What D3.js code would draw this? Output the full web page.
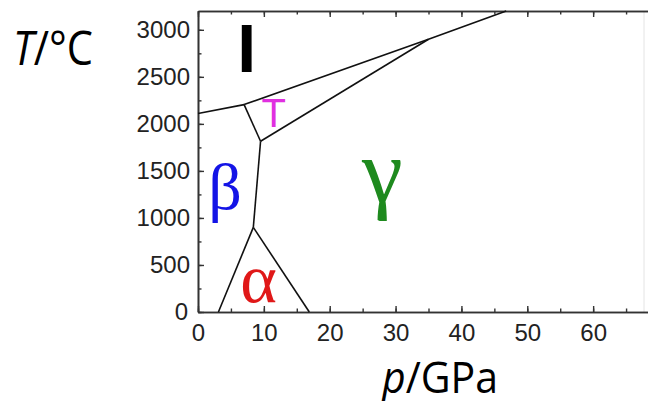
<!DOCTYPE html>
<html>
<head>
<meta charset="utf-8">
<script src="https://cdn.jsdelivr.net/npm/d3@7"></script>
<style>
  body { margin: 0; background: #fff; }
  svg { display: block; }
  .tick text { font-family: "Liberation Sans", Arial, sans-serif; font-size: 24px; fill: #222; }
</style>
</head>
<body>
<div id="chart"></div>
<script>
// phase boundaries, [p (GPa), T (°C)]
const lineLiquidBeta = [[0, 2110], [7, 2205]];
const lineMeltTop = [[7, 2205], [35, 2900], [46.8, 3200]];
const lineBetaT = [[7, 2205], [9.5, 1815]];
const lineTGamma = [[9.5, 1815], [35, 2900]];
const lineBetaGamma = [[9.5, 1815], [8.4, 900]];
const lineAlphaBeta = [[8.4, 900], [3.1, 0]];
const lineAlphaGamma = [[8.4, 900], [16.9, 0]];
const boundaries = [lineLiquidBeta, lineMeltTop, lineBetaT, lineTGamma, lineBetaGamma, lineAlphaBeta, lineAlphaGamma];

// phase labels
const phaseNames = ["I", "T", "β", "α", "γ"];
const phaseP = [7.4, 11.5, 4.1, 9.2, 28];
const phaseT = [2550, 1965, 1100, 104, 1170];

const xTicks = [0, 10, 20, 30, 40, 50, 60];
const yTicks = [0, 500, 1000, 1500, 2000, 2500, 3000];

let vis = {};
vis.width = 648;
vis.height = 401;

vis.svg = d3.select("#chart").append("svg")
    .attr("width", vis.width)
    .attr("height", vis.height);

// plot runs past the right edge of the picture (cropped)
vis.x = d3.scaleLinear().domain([0, 70]).range([198, 659]);
vis.y = d3.scaleLinear().domain([0, 3200]).range([312, 11]);

// axes, ticks pointing inward
let minorX = d3.range(0, 70, 5);
let minorY = d3.range(0, 3201, 250);

function styleAxis(g) {
    g.select(".domain").attr("stroke", "#333").attr("stroke-width", 1.6);
    g.selectAll(".tick line").attr("stroke", "#333").attr("stroke-width", 1.4);
}

// faint right edge of the cropped frame
vis.svg.append("line")
    .attr("x1", 644).attr("x2", 644)
    .attr("y1", vis.y(3200)).attr("y2", vis.y(0))
    .attr("stroke", "#e4e4e4")
    .attr("stroke-width", 1);

vis.svg.append("g")
    .attr("transform", "translate(0," + vis.y(0) + ")")
    .call(d3.axisBottom(vis.x).tickValues(minorX).tickSize(-3.5).tickSizeOuter(0).tickFormat(""))
    .call(styleAxis);
vis.svg.append("g")
    .attr("transform", "translate(0," + vis.y(0) + ")")
    .call(d3.axisBottom(vis.x).tickValues(xTicks).tickSize(-6).tickPadding(12).tickSizeOuter(0).tickFormat(d3.format("d")))
    .call(styleAxis)
    .selectAll("text").attr("dy", "0.71em");

vis.svg.append("g")
    .attr("transform", "translate(0," + vis.y(3200) + ")")
    .call(d3.axisTop(vis.x).tickValues(minorX).tickSize(-3.5).tickSizeOuter(0).tickFormat(""))
    .call(styleAxis);
vis.svg.append("g")
    .attr("transform", "translate(0," + vis.y(3200) + ")")
    .call(d3.axisTop(vis.x).tickValues(xTicks).tickSize(-6).tickFormat("").tickSizeOuter(0))
    .call(styleAxis);

vis.svg.append("g")
    .attr("transform", "translate(" + vis.x(0) + ",0)")
    .call(d3.axisLeft(vis.y).tickValues(minorY).tickSize(-3.5).tickSizeOuter(0).tickFormat(""))
    .call(styleAxis);
vis.svg.append("g")
    .attr("class", "y-axis")
    .attr("transform", "translate(" + vis.x(0) + ",0)")
    .call(d3.axisLeft(vis.y).tickValues(yTicks).tickSize(-6).tickPadding(8).tickSizeOuter(0).tickFormat(d3.format("d")))
    .call(styleAxis);

// the 0 on the T axis sits a bit left
vis.svg.select(".y-axis").selectAll(".tick text")
    .filter(d => d === 0)
    .attr("x", -10);

// phase boundaries
let line = d3.line().x(d => vis.x(d[0])).y(d => vis.y(d[1]));
vis.svg.append("g")
    .selectAll("path")
    .data(boundaries)
    .join("path")
    .attr("d", line)
    .attr("fill", "none")
    .attr("stroke", "#111")
    .attr("stroke-width", 1.6);

// phase labels
let labelStyle = {
    "I": {font: "Liberation Sans", weight: "bold", size: 68, color: "#000"},
    "T": {font: "Liberation Sans", weight: "normal", size: 40, color: "#e030e0"},
    "β": {font: "Liberation Serif", weight: "normal", size: 66, color: "#1414e6"},
    "α": {font: "Liberation Serif", weight: "normal", size: 70, color: "#e01818"},
    "γ": {font: "Liberation Serif", weight: "normal", size: 92, color: "#1e8a1e"}
};
vis.svg.append("g")
    .selectAll("text")
    .data(phaseNames)
    .join("text")
    .attr("x", (d, i) => vis.x(phaseP[i]))
    .attr("y", (d, i) => vis.y(phaseT[i]))
    .attr("text-anchor", "middle")
    .style("font-family", d => labelStyle[d].font)
    .style("font-weight", d => labelStyle[d].weight)
    .style("font-size", d => labelStyle[d].size + "px")
    .attr("fill", d => labelStyle[d].color)
    .text(d => d);

// axis titles
let tTitle = vis.svg.append("text")
    .attr("x", 13)
    .attr("y", 65)
    .attr("textLength", 80)
    .attr("lengthAdjust", "spacingAndGlyphs")
    .style("font-family", "Open Sans")
    .style("font-size", "48px")
    .attr("fill", "#000");
tTitle.append("tspan").style("font-style", "italic").text("T");
tTitle.append("tspan").text("/°C");

let pTitle = vis.svg.append("text")
    .attr("x", 382)
    .attr("y", 393)
    .attr("textLength", 116)
    .attr("lengthAdjust", "spacingAndGlyphs")
    .style("font-family", "Open Sans")
    .style("font-size", "43px")
    .attr("fill", "#000");
pTitle.append("tspan").style("font-style", "italic").text("p");
pTitle.append("tspan").text("/GPa");
</script>
</body>
</html>
